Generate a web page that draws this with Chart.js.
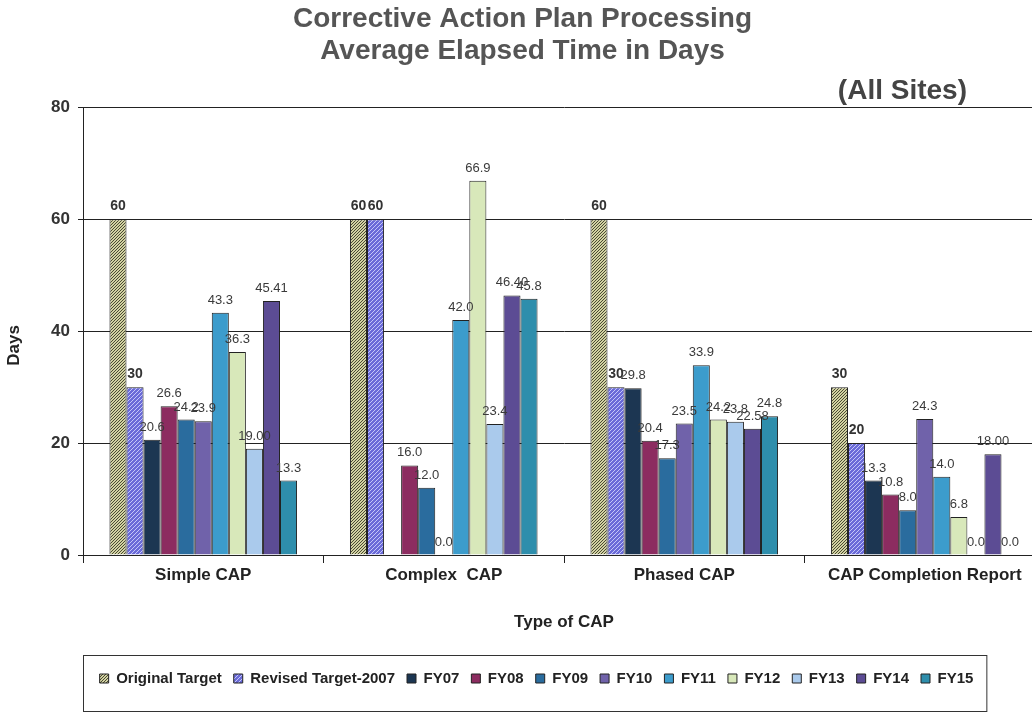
<!DOCTYPE html>
<html>
<head>
<meta charset="utf-8">
<script src="https://cdn.jsdelivr.net/npm/chart.js@4/dist/chart.umd.min.js"></script>
<style>
    html, body { margin: 0; padding: 0; background: #fff; overflow: hidden; }
    #wrap { width: 1045px; height: 713px; }
</style>
</head>
<body>
<div id="wrap"><canvas id="myChart" width="1045" height="713"></canvas></div>
<script>
// данные
const categories = ['Simple CAP', 'Complex  CAP', 'Phased CAP', 'CAP Completion Report'];
const seriesNames = ['Original Target', 'Revised Target-2007', 'FY07', 'FY08', 'FY09', 'FY10', 'FY11', 'FY12', 'FY13', 'FY14', 'FY15'];
const originalTarget = [60, 60, 60, 30];
const revisedTarget = [30, 60, 30, 20];
const fy07 = [20.6, null, 29.8, 13.3];
const fy08 = [26.6, 16.0, 20.4, 10.8];
const fy09 = [24.2, 12.0, 17.3, 8.0];
const fy10 = [23.9, 0.0, 23.5, 24.3];
const fy11 = [43.3, 42.0, 33.9, 14.0];
const fy12 = [36.3, 66.9, 24.2, 6.8];
const fy13 = [19.00, 23.4, 23.8, 0.0];
const fy14 = [45.41, 46.40, 22.58, 18.00];
const fy15 = [13.3, 45.8, 24.8, 0.0];
const yTicks = [0, 20, 40, 60, 80];
// сколько знаков после запятой в подписях
const labelDigits = [0, 0, 1, 1, 1, 1, 1, 1, [2, 1, 1, 1], 2, 1];

const FONT = "Arial, 'Liberation Sans', sans-serif";

const ctx = document.getElementById('myChart').getContext('2d');

// штриховка для целевых значений
function makePattern(bg, fg, size, pixels) {
    const c = document.createElement('canvas');
    c.width = size;
    c.height = size;
    const p = c.getContext('2d');
    p.fillStyle = bg;
    p.fillRect(0, 0, size, size);
    p.fillStyle = fg;
    pixels.forEach(([x, y]) => p.fillRect(x, y, 1, 1));
    return ctx.createPattern(c, 'repeat');
}

const originalFill = makePattern('#d2d2a2', '#4a4a34', 3, [[0, 2], [1, 1], [2, 0]]);
const revisedFill = makePattern('#6a6ad8', '#c4c6f8', 4, [[0, 0], [2, 2], [1, 3], [3, 1]]);

const allData = [originalTarget, revisedTarget, fy07, fy08, fy09, fy10, fy11, fy12, fy13, fy14, fy15];
const colors = [originalFill, revisedFill, '#1c3652', '#8c2c60', '#2a6c9e', '#7062aa', '#3c9ccc', '#d8e8ba', '#aacaec', '#5c4c94', '#2e8eac'];

const datasets = allData.map((d, i) => ({
    label: seriesNames[i],
    data: d,
    backgroundColor: colors[i],
    borderColor: '#222',
    borderWidth: 1,
    borderSkipped: 'bottom'
}));

// подписи над столбцами
const valueLabels = {
    id: 'valueLabels',
    afterDatasetsDraw(chart) {
        const c = chart.ctx;
        c.save();
        c.textAlign = 'center';
        c.textBaseline = 'alphabetic';
        chart.data.datasets.forEach((ds, i) => {
            const meta = chart.getDatasetMeta(i);
            const bold = i < 2;
            c.font = bold ? 'bold 14px ' + FONT : '13px ' + FONT;
            c.fillStyle = bold ? '#333' : '#3a3a3a';
            meta.data.forEach((bar, j) => {
                const v = ds.data[j];
                if (v === null || v === undefined) return;
                const dg = Array.isArray(labelDigits[i]) ? labelDigits[i][j] : labelDigits[i];
                c.fillText(v.toFixed(dg), bar.x, bar.y - 9);
            });
        });
        c.restore();
    }
};

// легенда: своя высота, сдвиг вправо, рамка; плюс "(All Sites)"
const extras = {
    id: 'extras',
    afterInit(chart) {
        const lg = chart.legend;
        const fit = lg.fit.bind(lg);
        lg.fit = function () {
            fit();
            this.height = 58;
        };
    },
    afterUpdate(chart) {
        const lg = chart.legend;
        lg.left += 14;
        lg.right += 14;
        lg.top += 4;
        lg.adjustHitBoxes();
    },
    afterDraw(chart) {
        const c = chart.ctx;
        const lg = chart.legend;
        const hb = lg.legendHitBoxes;
        const last = hb[hb.length - 1];
        const right = last.left + last.width + 13;
        const left = chart.chartArea.left;
        const top = chart.scales.x.bottom;
        c.save();
        c.strokeStyle = '#333';
        c.lineWidth = 1;
        c.strokeRect(left + 0.5, top + 0.5, right - left, chart.height - top - 2);
        c.font = 'bold 28px ' + FONT;
        c.fillStyle = '#444';
        c.textAlign = 'right';
        c.textBaseline = 'alphabetic';
        c.fillText('(All Sites)', chart.chartArea.right - 78, chart.chartArea.top - 8);
        c.restore();
    }
};

window.chart = new Chart(ctx, {
    type: 'bar',
    data: {
        labels: categories,
        datasets: datasets
    },
    options: {
        responsive: false,
        animation: false,
        devicePixelRatio: 1,
        layout: { padding: 0 },
        datasets: {
            bar: {
                categoryPercentage: 0.78,
                barPercentage: 1.0
            }
        },
        scales: {
            x: {
                grid: {
                    drawOnChartArea: false,
                    drawTicks: true,
                    tickLength: 8,
                    color: '#222'
                },
                border: { color: '#222', width: 1 },
                ticks: {
                    autoSkip: false,
                    maxRotation: 0,
                    padding: 2,
                    color: '#222',
                    font: { family: FONT, size: 17, weight: 'bold' }
                },
                title: {
                    display: true,
                    text: 'Type of CAP',
                    color: '#222',
                    font: { family: FONT, size: 17, weight: 'bold' },
                    padding: { top: 22, bottom: 22 }
                },
                afterFit(scale) {
                    scale.height = 100;
                }
            },
            y: {
                min: 0,
                max: 80,
                afterBuildTicks(scale) {
                    scale.ticks = yTicks.map(v => ({ value: v }));
                },
                grid: {
                    color: '#222',
                    lineWidth: 1,
                    tickLength: 5
                },
                border: { color: '#222', width: 1 },
                ticks: {
                    padding: 8,
                    color: '#333',
                    font: { family: FONT, size: 17, weight: 'bold' }
                },
                title: {
                    display: true,
                    text: 'Days      ',
                    color: '#222',
                    font: { family: FONT, size: 17, weight: 'bold' },
                    padding: { top: 4, bottom: 4 }
                },
                afterFit(scale) {
                    scale.width = 83;
                }
            }
        },
        plugins: {
            title: {
                display: true,
                text: ['Corrective Action Plan Processing', 'Average Elapsed Time in Days'],
                color: '#555',
                font: { family: FONT, size: 28, weight: 'bold', lineHeight: 1.15 },
                padding: { top: 3, bottom: 40 }
            },
            legend: {
                position: 'bottom',
                labels: {
                    boxWidth: 9,
                    boxHeight: 9,
                    padding: 12,
                    color: '#222',
                    font: { family: FONT, size: 15, weight: 'bold' }
                }
            },
            tooltip: { enabled: false }
        }
    },
    plugins: [valueLabels, extras]
});
</script>
</body>
</html>
